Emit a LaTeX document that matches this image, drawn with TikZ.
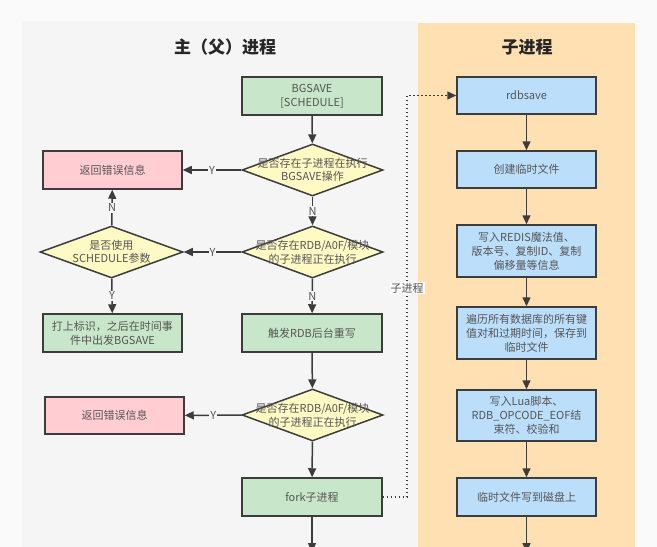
\documentclass[tikz,border=0pt]{standalone}
\usepackage{fontspec}
\setmainfont{Noto Sans CJK SC}
\usetikzlibrary{shapes.geometric,arrows.meta}
\definecolor{outerbg}{HTML}{FAFAFA}
\definecolor{panelgrey}{HTML}{F5F5F5}
\definecolor{panelorange}{HTML}{FFE0B2}
\definecolor{boxgreen}{HTML}{C8E6C9}
\definecolor{boxpink}{HTML}{FFCDD2}
\definecolor{boxyellow}{HTML}{FFF9C4}
\definecolor{boxblue}{HTML}{BBDEFB}
\definecolor{stroke}{HTML}{3C3C3C}
\definecolor{txt}{HTML}{555555}
\tikzset{
  base/.style={draw=stroke, line width=1.5pt, text=txt, font=\fontsize{11}{14}\selectfont, align=center, inner sep=0pt},
  greenbox/.style={base, fill=boxgreen, minimum width=140pt, minimum height=38pt},
  pinkbox/.style={base, fill=boxpink, minimum width=139pt, minimum height=38pt},
  bluebox/.style={base, fill=boxblue, minimum width=139pt, minimum height=38pt},
  decision/.style={base, diamond, fill=boxyellow, minimum width=141pt, minimum height=52pt},
  flow/.style={draw=stroke, line width=1.5pt, -{Triangle[length=9pt,width=8pt]}},
  dotflow/.style={draw=stroke, line width=1.5pt, dash pattern=on 1.5pt off 2.5pt, -{Triangle[length=9pt,width=8pt]}},
  lbl/.style={fill=panelgrey, text=txt, font=\fontsize{11}{13}\selectfont, inner sep=1pt},
  title/.style={font=\fontsize{17}{20}\selectfont\bfseries, text=black!85}
}
\begin{document}
\begin{tikzpicture}[x=1pt,y=-1pt]
\useasboundingbox (0,0) rectangle (657,547);
\fill[outerbg] (0,0) rectangle (657,547);
\fill[panelgrey] (22,21) rectangle (418,547);
\fill[panelorange] (418,23) rectangle (635,547);

\node[title] (t1) at (225,47) {主（父）进程};
\node[title] (t2) at (527,47) {子进程};

% main process
\node[greenbox] (bg) at (312,96) {BGSAVE\\{[SCHEDULE]}};
\node[decision, label={center:{\fontsize{11}{14}\selectfont\color{txt}\shortstack{是否存在子进程在执行\\BGSAVE操作}}}] (d1) at (312.5,170) {};
\node[pinkbox] (e1) at (112.5,170) {返回错误信息};
\node[decision, label={center:{\fontsize{11}{14}\selectfont\color{txt}\shortstack{是否存在RDB/A0F/模块\\的子进程正在执行}}}] (d2) at (312.5,252) {};
\node[decision, minimum width=143pt, label={center:{\fontsize{11}{14}\selectfont\color{txt}\shortstack{是否使用\\SCHEDULE参数}}}] (dl) at (111.5,252) {};
\node[greenbox, minimum width=139pt] (mk) at (112.5,333) {打上标识，之后在时间事\\件中出发BGSAVE};
\node[greenbox] (tr) at (312,333) {触发RDB后台重写};
\node[decision, label={center:{\fontsize{11}{14}\selectfont\color{txt}\shortstack{是否存在RDB/A0F/模块\\的子进程正在执行}}}] (d4) at (312.5,415) {};
\node[pinkbox, minimum height=37pt] (e3) at (114.5,415.5) {返回错误信息};
\node[greenbox] (fk) at (312,497) {fork子进程};
\coordinate (fkend) at (312,552);

% child process
\node[bluebox, minimum height=37pt] (c1) at (526.5,95.5) {rdbsave};
\node[bluebox, minimum height=37pt] (c2) at (526.5,169.5) {创建临时文件};
\node[bluebox, minimum height=52pt] (c3) at (526.5,251) {写入REDIS魔法值、\\版本号、复制ID、复制\\偏移量等信息};
\node[bluebox, minimum height=52pt] (c4) at (526.5,333) {遍历所有数据库的所有键\\值对和过期时间，保存到\\临时文件};
\node[bluebox, minimum height=51pt] (c5) at (526.5,415.5) {写入Lua脚本、\\RDB\_OPCODE\_EOF结\\束符、校验和};
\node[bluebox] (c6) at (526.5,497) {临时文件写到磁盘上};
\coordinate (c6end) at (526.5,552);

% connectors main
\draw[flow] (bg) -- (d1);
\draw[flow] (d1) -- node[lbl, pos=0.5] {Y} (e1);
\draw[flow] (d1) -- node[lbl] {N} (d2);
\draw[flow] (d2) -- node[lbl] {Y} (dl);
\draw[flow] (dl) -- node[lbl] {N} (e1);
\draw[flow] (dl) -- node[lbl] {Y} (mk);
\draw[flow] (d2) -- node[lbl] {N} (tr);
\draw[flow] (tr) -- (d4);
\draw[flow] (d4) -- node[lbl] {Y} (e3);
\draw[flow] (d4) -- (fk);
\draw[flow] (fk) -- (fkend);

% fork to child
\coordinate (fa) at (407,497);
\coordinate (fb) at (407,95.5);
\draw[dotflow] (fk.east) -- (fa) -- node[pos=0.52, fill=outerbg, text=txt, font=\fontsize{11}{13}\selectfont, inner sep=1pt] (lz) {子进程} (fb) -- (c1.west);

% connectors child
\draw[flow] (c1) -- (c2);
\draw[flow] (c2) -- (c3);
\draw[flow] (c3) -- (c4);
\draw[flow] (c4) -- (c5);
\draw[flow] (c5) -- (c6);
\draw[flow] (c6) -- (c6end);
\end{tikzpicture}
\end{document}
